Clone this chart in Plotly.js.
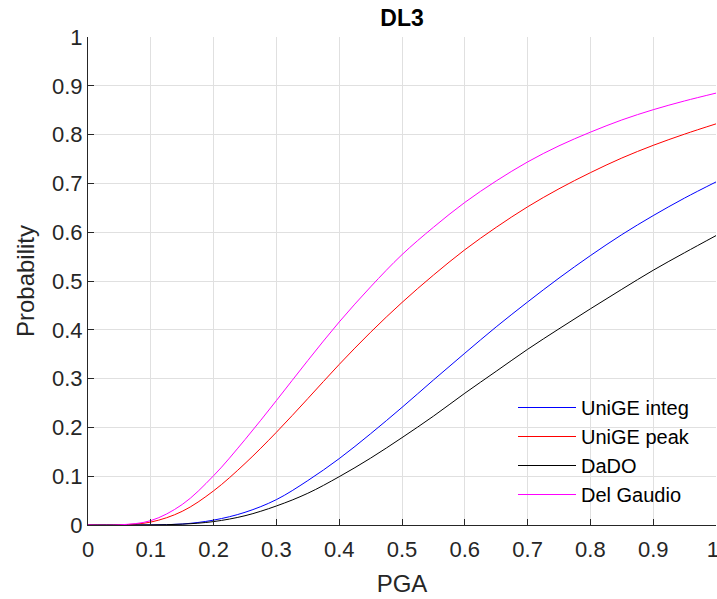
<!DOCTYPE html>
<html>
<head>
<meta charset="utf-8">
<script src="https://cdn.plot.ly/plotly-3.0.1.min.js"></script>
<style>html,body{margin:0;padding:0;background:#fff;}#chart{width:717px;height:599px;}</style>
</head>
<body>
<div id="chart"></div>
<script>
const pga = [0,0.05,0.1,0.15,0.2,0.25,0.3,0.35,0.4,0.45,0.5,0.55,0.6,0.65,0.7,0.75,0.8,0.85,0.9,0.95,1.0];
const unigeInteg = [0,0,0.0002,0.002,0.010,0.026,0.052,0.091,0.136,0.187,0.241,0.297,0.352,0.406,0.457,0.506,0.552,0.595,0.634,0.670,0.703];
const unigePeak  = [0,0.0002,0.006,0.028,0.070,0.126,0.190,0.259,0.329,0.395,0.456,0.512,0.564,0.610,0.652,0.689,0.722,0.752,0.778,0.801,0.822];
const dado       = [0,0,0.0002,0.0017,0.007,0.019,0.039,0.065,0.099,0.137,0.179,0.223,0.270,0.315,0.360,0.402,0.443,0.483,0.522,0.558,0.593];
const delGaudio  = [0,0.0003,0.009,0.042,0.101,0.175,0.255,0.337,0.416,0.488,0.554,0.610,0.661,0.705,0.744,0.777,0.805,0.830,0.851,0.869,0.885];
const seriesNames = ['UniGE integ','UniGE peak','DaDO','Del Gaudio'];
const seriesColors = ['#0000ff','#ff0000','#000000','#ff00ff'];
const tickVals = [0,0.1,0.2,0.3,0.4,0.5,0.6,0.7,0.8,0.9,1];
const yTickText = ['0','0.1','0.2','0.3','0.4','0.5','0.6','0.7','0.8','0.9','1'];
const xTickText = ['0','0.1','0.2','0.3','0.4','0.5','0.6','0.7','0.8','0.9','1\u00a0'];

const series = [unigeInteg, unigePeak, dado, delGaudio];
const traces = series.map((ys, i) => ({
  x: pga, y: ys, type: 'scatter', mode: 'lines', name: seriesNames[i],
  line: {color: seriesColors[i], width: 1, shape: 'spline', smoothing: 1}
}));

const fontFam = '"Liberation Sans", Arial, Helvetica, sans-serif';
const axisCommon = {
  range: [0, 1], tickmode: 'array', tickvals: tickVals,
  showgrid: true, gridcolor: '#e0e0e0', gridwidth: 1,
  showline: true, linecolor: '#262626', linewidth: 1, mirror: false,
  ticks: 'inside', ticklen: 6, tickcolor: '#262626', tickwidth: 1,
  zeroline: false, tickfont: {family: fontFam, size: 22, color: '#262626'},
  ticklabeloverflow: 'allow'
};

const layout = {
  width: 717, height: 599,
  margin: {l: 88, r: 1, t: 37, b: 74, pad: 0},
  paper_bgcolor: '#ffffff', plot_bgcolor: '#ffffff',
  font: {family: fontFam, color: '#262626'},
  title: {text: '<b>DL3</b>', font: {family: fontFam, size: 23, color: '#000000'}, x: 402/717, xanchor: 'center', y: 1 - 18/599, yanchor: 'middle'},
  xaxis: Object.assign({}, axisCommon, {
    ticktext: xTickText,
    ticklabelstandoff: 5,
    title: {text: 'PGA', font: {family: fontFam, size: 24, color: '#262626'}, standoff: 13}
  }),
  yaxis: Object.assign({}, axisCommon, {
    ticktext: yTickText,
    title: {text: 'Probability', font: {family: fontFam, size: 24, color: '#262626'}, standoff: 10}
  }),
  showlegend: true,
  legend: {
    x: (513 - 88) / 628, xanchor: 'left', y: (525 - 388) / 488, yanchor: 'top',
    bgcolor: 'rgba(255,255,255,0)', borderwidth: 0, itemwidth: 58,
    font: {family: fontFam, size: 20, color: '#000000'}
  }
};

Plotly.newPlot('chart', traces, layout, {staticPlot: true, displayModeBar: false});
</script>
</body>
</html>
